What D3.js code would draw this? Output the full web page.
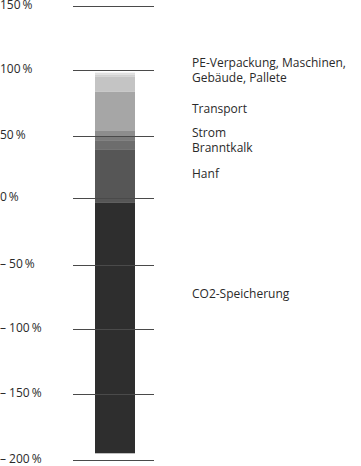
<!DOCTYPE html>
<html lang="de">
    <head>
        <meta charset="utf-8">
        <title>CO2-Bilanz</title>
        <script type="text/javascript" src="https://cdn.jsdelivr.net/npm/d3@7"></script>
		<style>
		body {margin: 0; background: #fff;}
		text {font-family: "Open Sans", sans-serif; font-size: 12px; fill: #2a2a2a;}
		.grid line {stroke: #4a4a4a; stroke-width: 1;}
		</style>
    </head>
    <body>
		<svg width="361" height="466"></svg>

        <script type="text/javascript">
		/// données
		var tickValues = [150, 100, 50, 0, -50, -100, -150, -200];
		var barStart = -194.9;
		var segmentNames = ["CO2-Speicherung", "Hanf", "Branntkalk", "Strom (Kalk)", "Strom",
			"Transport", "Gebäude", "Maschinen", "PE-Verpackung"];
		var segmentSizes = [191.5, 42.1, 7.3, 4.0, 3.8, 29.6, 11.8, 1.5, 1.3];
		var segmentColors = ["#2e2e2e", "#565656", "#6d6d6d", "#7b7b7b", "#8d8d8d",
			"#a6a6a6", "#c4c4c4", "#d1d1d1", "#dfdfdf"];
		var labelLines = [
			["PE-Verpackung, Maschinen,", "Gebäude, Pallete"],
			["Transport"],
			["Strom"],
			["Branntkalk"],
			["Hanf"],
			["CO2-Speicherung"]
		];
		var labelBaselines = [66.7, 113.3, 137.3, 151.7, 178.3, 298.3];

		/// échelle (positions des lignes mesurées sur l'image)
		var y = d3.scaleLinear()
			.domain(tickValues)
			.range([6, 70, 136, 197.7, 264.7, 328.7, 394.3, 460]);

		var svg = d3.select("svg");

		/// segments empilés
		var cumul = barStart;
		var segments = segmentSizes.map(function(s, i) {
			var d = {name: segmentNames[i], from: cumul, to: cumul + s, color: segmentColors[i]};
			cumul += s;
			return d;
		});

		svg.append("g")
			.selectAll("rect")
			.data(segments)
			.enter()
			.append("rect")
				.attr("x", 95)
				.attr("width", 40)
				.attr("y", function(d) { return y(d.to) })
				.attr("height", function(d) { return y(d.from) - y(d.to) })
				.attr("fill", function(d) { return d.color });

		/// lignes + étiquettes de l'axe
		var g = svg.append("g").attr("class", "grid");
		g.selectAll("line")
			.data(tickValues)
			.enter()
			.append("line")
				.attr("x1", 73)
				.attr("x2", 154)
				.attr("y1", function(d) { return Math.round(y(d)) + 0.5 })
				.attr("y2", function(d) { return Math.round(y(d)) + 0.5 });

		g.selectAll("text")
			.data(tickValues)
			.enter()
			.append("text")
				.attr("x", 0)
				.attr("y", function(d) { return y(d) + 3 })
				.text(function(d) {
					return (d < 0 ? "\u2013 " + (-d) : d) + "\u2009%"
				});

		/// légende
		var lg = svg.append("g");
		labelLines.forEach(function(lines, i) {
			var t = lg.append("text")
				.attr("x", 192)
				.attr("y", labelBaselines[i]);
			lines.forEach(function(l, j) {
				t.append("tspan")
					.attr("x", 192)
					.attr("dy", j == 0 ? 0 : 15.6)
					.text(l);
			});
		});
        </script>
    </body>
</html>
